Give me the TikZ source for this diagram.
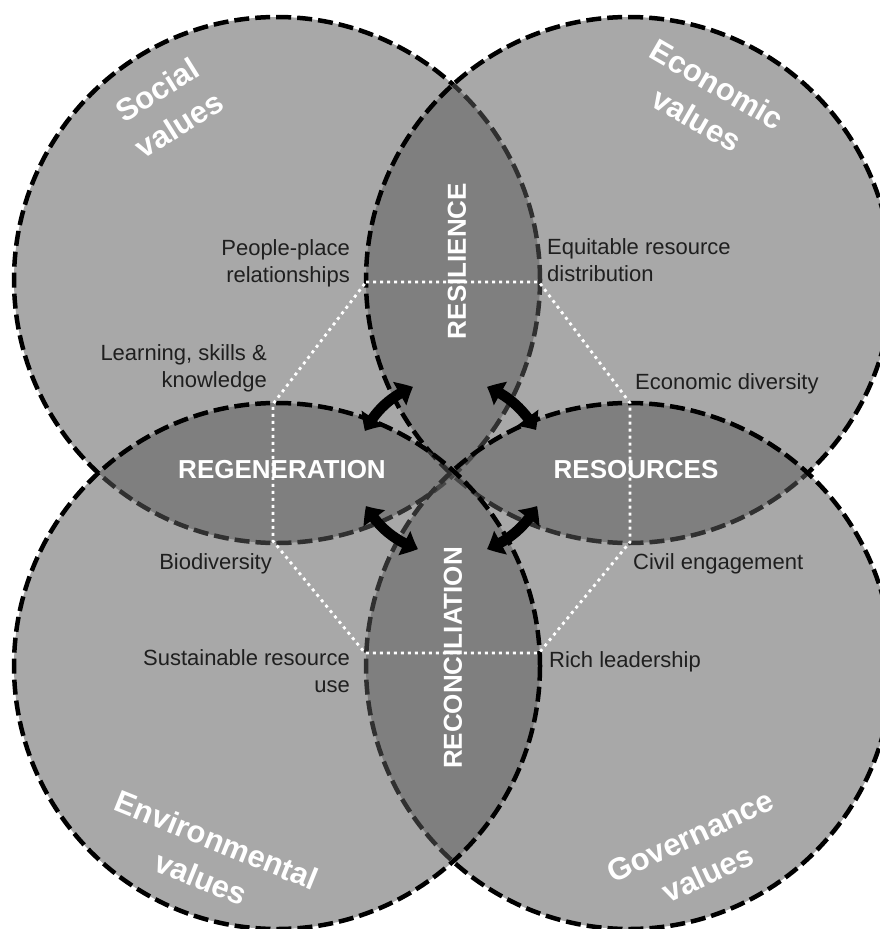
\documentclass[tikz,border=0pt]{standalone}
\usepackage{fontspec}
\setmainfont{Liberation Sans}
\usetikzlibrary{arrows.meta,bending}
\begin{document}
\begin{tikzpicture}[x=1pt,y=-1pt,
  valcircle/.style={circle, minimum size=526pt, inner sep=0pt, fill=black!64, fill opacity=0.53, draw=black, draw opacity=1, line width=4.5pt, dash pattern=on 15pt off 6pt},
  lbl/.style={text=black!88, font=\fontsize{22}{26.5}\selectfont, inner sep=0pt},
  lenslbl/.style={text=white, font=\bfseries\fontsize{26}{30}\selectfont, inner sep=0pt},
  valtitle/.style={text=white, font=\bfseries\fontsize{31}{41}\selectfont, inner sep=0pt, align=center},
  dotline/.style={white, line width=2.8pt, dash pattern=on 3pt off 4pt},
  twoway/.style={line width=10.5pt, {Triangle[width=26pt,length=15pt,bend]}-{Triangle[width=26pt,length=15pt,bend]}}
]
\useasboundingbox (0,0) rectangle (880,929);
\fill[white] (0,0) rectangle (880,929);
\clip (0,0) rectangle (880,929);

% value circles (drawn in this order so later fills grey earlier borders)
\node[valcircle] (soc) at (277,280) {};
\node[valcircle] (eco) at (629,280) {};
\node[valcircle] (gov) at (629,666) {};
\node[valcircle] (env) at (277,666) {};

% dotted octagon
\coordinate (o1) at (366,282);
\coordinate (o2) at (539,282);
\coordinate (o3) at (630,403);
\coordinate (o4) at (630,542);
\coordinate (o5) at (539,653);
\coordinate (o6) at (365,653);
\coordinate (o7) at (273,541);
\coordinate (o8) at (273,404);
\draw[dotline] (o1) -- (o2) -- (o3) -- (o4) -- (o5) -- (o6) -- (o7) -- (o8) -- cycle;

% lens labels
\node[lenslbl, rotate=90] (resil) at (457,261) {RESILIENCE};
\node[lenslbl] (regen) at (282,470) {REGENERATION};
\node[lenslbl] (resou) at (636,470) {RESOURCES};
\node[lenslbl, rotate=90] (recon) at (453,658) {RECONCILIATION};

% value titles
\node[valtitle, rotate=32] (socT) at (168,107) {Social\\values};
\node[valtitle, rotate=-30] (ecoT) at (707,102) {Economic\\values};
\node[valtitle, rotate=-22] (envT) at (209,859) {Environmental\\values};
\node[valtitle, rotate=25] (govT) at (699,855) {Governance\\values};

% labels
\node[lbl, align=right, anchor=base east] (pp) at (350,282) {People-place\\relationships};
\node[lbl, align=left, anchor=base west] (eq) at (547,281) {Equitable resource\\distribution};
\node[lbl, align=right, anchor=base east] (lsk) at (267,387) {Learning, skills \&\\knowledge};
\node[lbl, anchor=base west] (ecd) at (635,389) {Economic diversity};
\node[lbl, anchor=base east] (bio) at (272,569) {Biodiversity};
\node[lbl, anchor=base west] (civ) at (633,569) {Civil engagement};
\node[lbl, align=right, anchor=base east] (sus) at (350,692) {Sustainable resource\\use};
\node[lbl, anchor=base west] (rich) at (549,667) {Rich leadership};

% two-way arrows
\coordinate (a1) at (365,431); \coordinate (b1) at (413,387);
\coordinate (a2) at (487,387); \coordinate (b2) at (536,430);
\coordinate (a3) at (366,506); \coordinate (b3) at (418,549);
\coordinate (a4) at (487,549); \coordinate (b4) at (537,506);
\draw[twoway] (a1) .. controls (375,411) and (391,396) .. (b1);
\draw[twoway] (a2) .. controls (508,395) and (524,410) .. (b2);
\draw[twoway] (a3) .. controls (378,527) and (395,541) .. (b3);
\draw[twoway] (a4) .. controls (508,541) and (525,527) .. (b4);
\end{tikzpicture}
\end{document}
